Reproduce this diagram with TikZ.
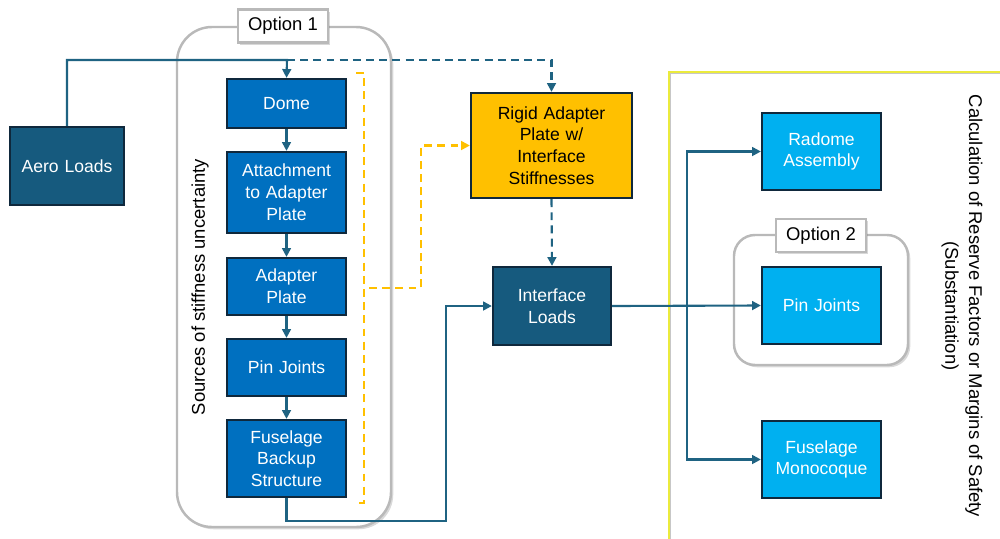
\documentclass[tikz,border=0pt]{standalone}
\usepackage{fontspec}
\setmainfont{Liberation Sans}
\usetikzlibrary{arrows.meta,shadows}
\definecolor{teal}{RGB}{22,90,126}
\definecolor{conncol}{RGB}{31,99,130}
\definecolor{bluebox}{RGB}{0,112,192}
\definecolor{lightbox}{RGB}{0,176,240}
\definecolor{gold}{RGB}{255,192,0}
\definecolor{edge}{RGB}{15,40,60}
\definecolor{framegray}{RGB}{185,185,185}
\definecolor{yelframe}{RGB}{235,235,60}
\begin{document}
\begin{tikzpicture}[x=0.02cm,y=-0.02cm,
  font=\fontsize{10}{12.4}\selectfont,
  basebox/.style={draw=edge,line width=1.3pt,align=center,inner sep=1pt,text width=2.2cm},
  darkbox/.style={basebox,fill=teal,text=white},
  midbox/.style={basebox,fill=bluebox,text=white},
  litebox/.style={basebox,fill=lightbox,text=white},
  goldbox/.style={basebox,fill=gold,text=black},
  conn/.style={draw=conncol,line width=1.2pt},
  arr/.style={-{Triangle[length=5pt,width=5pt]}},
  dconn/.style={conn,dash pattern=on 4.5pt off 3pt},
  yconn/.style={draw=gold,line width=1.4pt,dash pattern=on 4.5pt off 3pt},
  frame/.style={draw=framegray,line width=1.4pt,fill=white,
     drop shadow={opacity=0.3,shadow xshift=1.3pt,shadow yshift=-1.3pt}},
  optlabel/.style={draw=framegray,line width=1.4pt,fill=white,minimum width=1.8cm,minimum height=0.66cm,
     drop shadow={opacity=0.3,shadow xshift=1.3pt,shadow yshift=-1.3pt},font=\fontsize{10.5}{12}\selectfont}
]
\useasboundingbox (0,0) rectangle (1000,538);
\clip (0,0) rectangle (1000,538);

% right frame
\draw[draw=framegray!80,line width=0.7pt] (670.6,73.6) rectangle (1010,550);
\draw[draw=yelframe,line width=1pt] (669,72) rectangle (1010,550);

% option 1 frame
\draw[frame,rounded corners=0.7cm] (177,27) rectangle (391,527);
\node[optlabel] (opt1) at (283,26) {Option 1};
\node[rotate=90,font=\fontsize{10.5}{12}\selectfont] (src) at (200,287) {Sources of stiffness uncertainty};

% option 2 frame
\draw[frame,rounded corners=0.42cm] (734,235) rectangle (908,365);
\node[optlabel] (opt2) at (821,235.5) {Option 2};

% boxes
\node[darkbox,minimum width=2.24cm,minimum height=1.56cm] (aero) at (67,166) {Aero Loads};
\node[midbox,minimum width=2.38cm,minimum height=0.98cm] (dome) at (286.5,103.5) {Dome};
\node[midbox,minimum width=2.38cm,minimum height=1.62cm] (att) at (286.5,192.5) {Attachment\\to Adapter\\Plate};
\node[midbox,minimum width=2.38cm,minimum height=1.14cm] (adp) at (286.5,286.5) {Adapter\\Plate};
\node[midbox,minimum width=2.38cm,minimum height=1.14cm] (pin1) at (286.5,367.5) {Pin Joints};
\node[midbox,minimum width=2.38cm,minimum height=1.54cm] (fbs) at (286.5,458.5) {Fuselage\\Backup\\Structure};
\node[goldbox,minimum width=3.22cm,minimum height=2.1cm,text width=2.9cm] (rigid) at (551.5,145.5) {Rigid Adapter\\Plate w/\\Interface\\Stiffnesses};
\node[darkbox,minimum width=2.36cm,minimum height=1.56cm] (iface) at (552,306) {Interface\\Loads};
\node[litebox,minimum width=2.38cm,minimum height=1.54cm] (radome) at (821.5,151.5) {Radome\\Assembly};
\node[litebox,minimum width=2.38cm,minimum height=1.54cm] (pin2) at (821.5,305.5) {Pin Joints};
\node[litebox,minimum width=2.38cm,minimum height=1.54cm] (fmono) at (821.5,459.5) {Fuselage\\Monocoque};

\node[rotate=-90,align=center,font=\fontsize{10.5}{13.5}\selectfont] (calc) at (962,306) {Calculation of Reserve Factors or Margins of Safety\\(Substantiation)};

% coordinates
\coordinate (j1) at (287,60);
\coordinate (c1) at (446,521);
\coordinate (b1) at (687,306);
\coordinate (y1) at (356,73);
\coordinate (y2) at (364,73);
\coordinate (y3) at (364,503);
\coordinate (y4) at (356,503);
\coordinate (y5) at (369,288);
\coordinate (y6) at (421,288);

% connectors
\draw[conn,arr] (aero.north) |- (j1) -- (dome.north);
\draw[dconn,arr] (j1) -| (rigid.north);
\draw[conn,arr] (dome) -- (att);
\draw[conn,arr] (att) -- (adp);
\draw[conn,arr] (adp) -- (pin1);
\draw[conn,arr] (pin1) -- (fbs);
\draw[conn,arr] (fbs.south) |- (c1) |- (iface.west);
\draw[dconn,arr] (rigid.south) -- (iface.north);
\draw[conn,arr] (iface.east) -- (pin2.west);
\draw[conn,arr] (b1) |- (radome.west);
\draw[conn,arr] (b1) |- (fmono.west);
\draw[yconn] (y1) -- (y2) -- (y3) -- (y4);
\draw[yconn,arr] (y5) -- (y6) |- (rigid.west);
\end{tikzpicture}
\end{document}
